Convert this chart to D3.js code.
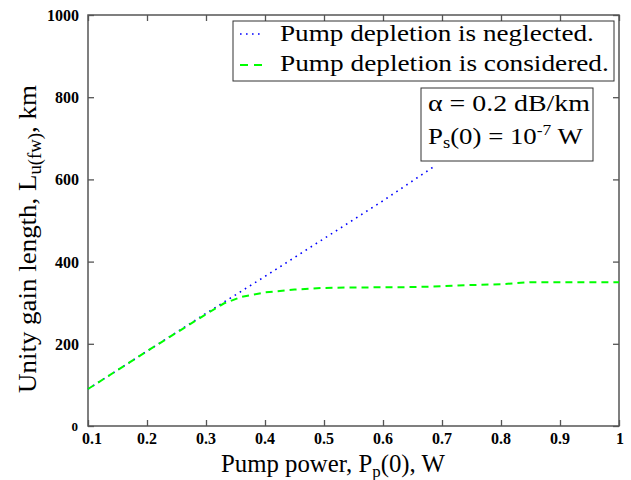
<!DOCTYPE html>
<html>
<head>
<meta charset="utf-8">
<script src="https://cdn.jsdelivr.net/npm/d3@7"></script>
<style>
body { margin: 0; background: #fff; }
text { font-family: "Liberation Serif", Tinos, "Times New Roman", Times, "DejaVu Serif", serif; fill: #000; }
.tick-label { font-weight: bold; font-size: 16px; }
</style>
</head>
<body>
<div id="chart"></div>
<script>
// data
var xTicks = [0.1, 0.2, 0.3, 0.4, 0.5, 0.6, 0.7, 0.8, 0.9, 1];
var yTicks = [0, 200, 400, 600, 800, 1000];

var neglectedP = [0.1, 0.2, 0.3, 0.4, 0.5, 0.6, 0.685];
var neglectedL = [90, 182, 274, 364, 456, 548, 630];

var consideredP = [0.1, 0.2, 0.3, 0.33, 0.36, 0.4, 0.45, 0.5, 0.55, 0.6, 0.65, 0.7, 0.75, 0.8, 0.85, 0.9, 0.95, 1];
var consideredL = [90, 182, 272, 298, 314, 325, 332, 336, 337, 337.5, 338, 340, 343, 345, 350, 350, 350, 350];

var svgWidth = 631,
    svgHeight = 480;

var margin = { t: 15, r: 12, b: 54, l: 88 };

var width = svgWidth - margin.l - margin.r,
    height = svgHeight - margin.t - margin.b;

var svg = d3.select('#chart')
  .append('svg')
  .attr('width', svgWidth)
  .attr('height', svgHeight);

var chart = svg.append('g')
  .attr('transform', `translate(${margin.l},${margin.t})`);

var xScale = d3.scaleLinear().domain([0.1, 1]).range([0, width]);
var yScale = d3.scaleLinear().domain([0, 1000]).range([height, 0]);

var axisColor = '#555';

// the text in the picture is a bit wider than Times, stretch it to fit
function fitText(sel, x, y, w) {
  var natural = sel.node().getComputedTextLength();
  sel.attr('transform', `translate(${x},${y})scale(${w / natural},1)`);
}

// ticks (inward, on all four sides)
function styleAxis(g) {
  g.select('.domain').remove();
  g.selectAll('.tick line').attr('stroke', axisColor).attr('stroke-width', 1.3);
  g.selectAll('.tick text').remove();
}

chart.append('g')
  .attr('transform', `translate(0,${height})`)
  .call(d3.axisBottom(xScale).tickValues(xTicks).tickSize(-6))
  .call(styleAxis);
chart.append('g')
  .call(d3.axisTop(xScale).tickValues(xTicks).tickSize(-6))
  .call(styleAxis);
chart.append('g')
  .call(d3.axisLeft(yScale).tickValues(yTicks).tickSize(-6))
  .call(styleAxis);
chart.append('g')
  .attr('transform', `translate(${width},0)`)
  .call(d3.axisRight(yScale).tickValues(yTicks).tickSize(-6))
  .call(styleAxis);

// frame
chart.append('rect')
  .attr('x', 0).attr('y', 0)
  .attr('width', width).attr('height', height)
  .attr('fill', 'none')
  .attr('stroke', axisColor)
  .attr('stroke-width', 1.5);

// tick labels
chart.selectAll('.xlab')
  .data(xTicks)
  .enter()
  .append('text')
  .attr('class', 'tick-label')
  .attr('x', d => xScale(d))
  .attr('y', height + 18)
  .attr('text-anchor', d => d === 1 ? 'end' : 'middle')
  .attr('dx', d => d === 1 ? 5 : (d === 0.1 ? 4 : 0))
  .text(d => d === 1 ? '1' : d3.format('.1f')(d));

chart.selectAll('.ylab')
  .data(yTicks)
  .enter()
  .append('text')
  .attr('class', 'tick-label')
  .attr('x', d => d === 0 ? -10 : -9)
  .attr('y', d => yScale(d) + (d === 0 ? 5 : 6))
  .attr('text-anchor', 'end')
  .style('font-size', d => d === 0 ? '13px' : null)
  .text(d => d);

// lines
var line = d3.line()
  .x(d => xScale(d[0]))
  .y(d => yScale(d[1]));

chart.append('path')
  .datum(neglectedP.map((p, i) => [p, neglectedL[i]]))
  .attr('d', line)
  .attr('fill', 'none')
  .attr('stroke', '#0000ff')
  .attr('stroke-width', 1.6)
  .attr('stroke-dasharray', '1.6,4.4');

chart.append('path')
  .datum(consideredP.map((p, i) => [p, consideredL[i]]))
  .attr('d', line)
  .attr('fill', 'none')
  .attr('stroke', '#00ff00')
  .attr('stroke-width', 2)
  .attr('stroke-dasharray', '7,5');

// legend
var legend = svg.append('g');
legend.append('rect')
  .attr('x', 233).attr('y', 21)
  .attr('width', 381).attr('height', 60)
  .attr('fill', '#fff')
  .attr('stroke', '#333')
  .attr('stroke-width', 1);
legend.append('line')
  .attr('x1', 240).attr('x2', 264).attr('y1', 34).attr('y2', 34)
  .attr('stroke', '#0000ff').attr('stroke-width', 1.6)
  .attr('stroke-dasharray', '1.6,4.4');
legend.append('line')
  .attr('x1', 240).attr('x2', 264).attr('y1', 65).attr('y2', 65)
  .attr('stroke', '#00ff00').attr('stroke-width', 2)
  .attr('stroke-dasharray', '8,6');
legend.append('text')
  .style('font-size', '24px')
  .text('Pump depletion is neglected.')
  .call(fitText, 280, 41, 314);
legend.append('text')
  .style('font-size', '24px')
  .text('Pump depletion is considered.')
  .call(fitText, 280, 71, 329);

// parameter box
var info = svg.append('g');
info.append('rect')
  .attr('x', 421).attr('y', 88)
  .attr('width', 172).attr('height', 73)
  .attr('fill', '#fff')
  .attr('stroke', '#333')
  .attr('stroke-width', 1);
info.append('text')
  .style('font-size', '23px')
  .text('α = 0.2 dB/km')
  .call(fitText, 428, 111, 162);
var ps = info.append('text')
  .style('font-size', '23px');
ps.append('tspan').text('P');
ps.append('tspan').attr('dy', 4).style('font-size', '16px').text('s');
ps.append('tspan').attr('dy', -4).text('(0) = 10');
ps.append('tspan').attr('dy', -9).style('font-size', '15px').text('-7');
ps.append('tspan').attr('dy', 9).text(' W');
ps.call(fitText, 428, 144, 155);

// axis titles
var xt = svg.append('text')
  .style('font-size', '25px');
xt.append('tspan').text('Pump power, P');
xt.append('tspan').attr('dy', 5).style('font-size', '17px').text('p');
xt.append('tspan').attr('dy', -5).text('(0), W');
xt.call(fitText, 221, 472, 224);

var yt = svg.append('text')
  .style('font-size', '26px');
yt.append('tspan').text('Unity gain length, L');
yt.append('tspan').attr('dy', 5).style('font-size', '18px').text('u(fw)');
yt.append('tspan').attr('dy', -5).text(', km');
var ytLen = yt.node().getComputedTextLength();
yt.attr('transform', `translate(36,393)rotate(-90)scale(${308 / ytLen},1)`);
</script>
</body>
</html>
